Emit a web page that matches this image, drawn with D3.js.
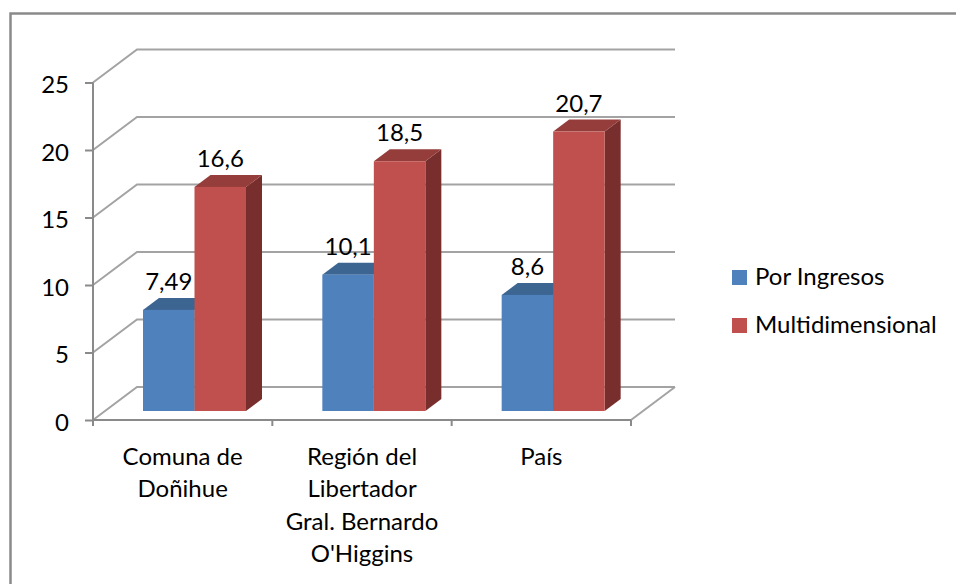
<!DOCTYPE html>
<html>
<head>
<meta charset="utf-8">
<script src="https://cdn.jsdelivr.net/npm/d3@7"></script>
<style>
  html, body { margin: 0; padding: 0; background: #fff; }
  svg { display: block; }
  text { font-family: Lato, "Open Sans", sans-serif; fill: #000; }
</style>
</head>
<body>
<svg id="chart" width="956" height="584"></svg>
<script>
// ---- data ----
const categories = ["Comuna de Doñihue", "Región del Libertador Gral. Bernardo O'Higgins", "País"];
const categoryLines = [["Comuna de", "Doñihue"], ["Región del", "Libertador", "Gral. Bernardo", "O'Higgins"], ["País"]];
const seriesNames = ["Por Ingresos", "Multidimensional"];
const porIngresos = [7.49, 10.1, 8.6];
const multidimensional = [16.6, 18.5, 20.7];
const yTicks = [0, 5, 10, 15, 20, 25];

const seriesValues = [porIngresos, multidimensional];
const colors = [
  { front: "#4F81BD", top: "#3D6591", side: "#2F4F73" },
  { front: "#C0504D", top: "#953D3B", side: "#772E2C" }
];

const svg = d3.select("#chart");
const FONT = 24;

// chart border
svg.append("rect")
  .attr("x", 10.5).attr("y", 13.5)
  .attr("width", 1000).attr("height", 700)
  .attr("fill", "#fff").attr("stroke", "#8a8a8a").attr("stroke-width", 2.5);

// scales
const x = d3.scaleBand().domain(categories).range([93, 631]);
const inner = d3.scaleBand().domain(seriesNames).range([38, 141]);
const y = d3.scaleLinear().domain([0, 25]).range([420, 82.5]);
const DX = 44, DY = -33;
const proj = (px, py, d) => [px + d * DX, py + d * DY];
const D0 = 12 / 44, D1 = 28 / 44;

const gridColor = "#a3a3a3";
const axisColor = "#8a8a8a";

// back wall + side wall gridlines
const grid = svg.append("g");
yTicks.forEach(t => {
  const yy = y(t);
  const a = proj(x.range()[0], yy, 0), b = proj(x.range()[0], yy, 1), c = proj(x.range()[1], yy, 1);
  grid.append("polyline")
    .attr("points", [a, b, c].map(p => p.join(",")).join(" "))
    .attr("fill", "none").attr("stroke", gridColor).attr("stroke-width", 2);
});
// floor right edge
{
  const a = proj(x.range()[1], y(0), 0), b = proj(x.range()[1], y(0), 1);
  grid.append("line").attr("x1", a[0]).attr("y1", a[1]).attr("x2", b[0]).attr("y2", b[1])
    .attr("stroke", gridColor).attr("stroke-width", 2);
}

// bars
const bars = svg.append("g");
categories.forEach((cat, ci) => {
  seriesNames.forEach((s, si) => {
    const v = seriesValues[si][ci];
    const x0 = x(cat) + inner(s), x1 = x0 + inner.bandwidth();
    const yt = y(v), yb = y(0);
    const poly = pts => pts.map(p => p.join(",")).join(" ");
    // side
    bars.append("polygon")
      .attr("points", poly([proj(x1, yt, D0), proj(x1, yt, D1), proj(x1, yb, D1), proj(x1, yb, D0)]))
      .attr("fill", colors[si].side);
    // top
    bars.append("polygon")
      .attr("points", poly([proj(x0, yt, D0), proj(x1, yt, D0), proj(x1, yt, D1), proj(x0, yt, D1)]))
      .attr("fill", colors[si].top);
    // front
    const f0 = proj(x0, yt, D0), f1 = proj(x1, yb, D0);
    bars.append("rect")
      .attr("x", f0[0]).attr("y", f0[1])
      .attr("width", f1[0] - f0[0]).attr("height", f1[1] - f0[1])
      .attr("fill", colors[si].front);
  });
});

// data labels
const labels = svg.append("g");
categories.forEach((cat, ci) => {
  seriesNames.forEach((s, si) => {
    const v = seriesValues[si][ci];
    const x0 = x(cat) + inner(s);
    const p = proj(x0 + inner.bandwidth() / 2, y(v), D0);
    labels.append("text")
      .attr("x", p[0]).attr("y", p[1] - 20)
      .attr("text-anchor", "middle")
      .attr("font-size", FONT)
      .text(String(v).replace(".", ","));
  });
});

// y axis
const yAxis = d3.axisLeft(y).tickValues(yTicks).tickSize(8).tickPadding(16).tickFormat(d => d);
const yg = svg.append("g").attr("transform", "translate(93,0)").call(yAxis);
yg.select(".domain").attr("stroke", axisColor).attr("stroke-width", 2).attr("d", `M0,${y(25)}V${y(0)}`);
yg.selectAll(".tick line").attr("stroke", axisColor).attr("stroke-width", 2);
yg.selectAll(".tick text").attr("font-size", FONT).attr("font-family", "Lato, sans-serif").attr("fill", "#000").attr("dy", "0.42em");

// x axis
const xg = svg.append("g");
xg.append("line").attr("x1", 93).attr("x2", 631).attr("y1", y(0)).attr("y2", y(0))
  .attr("stroke", axisColor).attr("stroke-width", 2);
const bounds = categories.map(c => x(c)).concat([x.range()[1]]);
bounds.forEach(b => {
  xg.append("line").attr("x1", b).attr("x2", b).attr("y1", y(0)).attr("y2", y(0) + 6)
    .attr("stroke", axisColor).attr("stroke-width", 2);
});
categories.forEach((cat, ci) => {
  const t = xg.append("text")
    .attr("x", x(cat) + x.bandwidth() / 2)
    .attr("y", 465)
    .attr("text-anchor", "middle")
    .attr("font-size", FONT);
  categoryLines[ci].forEach((line, li) => {
    t.append("tspan").attr("x", x(cat) + x.bandwidth() / 2).attr("dy", li === 0 ? 0 : 32.3).text(line);
  });
});

// legend
const lg = svg.append("g");
seriesNames.forEach((s, si) => {
  const yy = 270 + si * 48;
  lg.append("rect").attr("x", 732).attr("y", yy).attr("width", 15).attr("height", 15).attr("fill", colors[si].front);
  lg.append("text").attr("x", 755).attr("y", yy + 15).attr("font-size", FONT).text(s);
});
</script>
</body>
</html>
